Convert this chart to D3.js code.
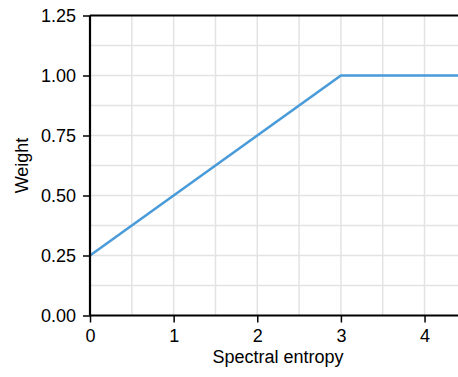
<!DOCTYPE html>
<html>
	<head>
		<style>
			body {
				margin: 0;
				background: #fff;
			}
			svg text {
				font-family: 'Liberation Sans', Arial, sans-serif;
				fill: #000;
			}
		</style>
	</head>
	<body>
		<svg id="chart" width="458" height="377"></svg>
		<script src="https://cdn.jsdelivr.net/npm/d3@7"></script>
		<script>
			// weight ramps linearly with entropy, then saturates at 1
			let entropy = [0, 3, 4.4];
			let weight = [0.25, 1, 1];

			let xTicks = [0, 1, 2, 3, 4];
			let yTicks = [0, 0.25, 0.5, 0.75, 1, 1.25];
			let xGrid = [0.5, 1, 1.5, 2, 2.5, 3, 3.5, 4];
			let yGrid = [0.125, 0.25, 0.375, 0.5, 0.625, 0.75, 0.875, 1, 1.125];

			let margin = { top: 15.5, right: 0, bottom: 61.5, left: 90 };
			let width = 458 - margin.left - margin.right;
			let height = 377 - margin.top - margin.bottom;

			let svg = d3.select('#chart');
			let g = svg
				.append('g')
				.attr('transform', `translate(${margin.left}, ${margin.top})`);

			let x = d3.scaleLinear().domain([0, 4.4]).range([0, width]);
			let y = d3.scaleLinear().domain([0, 1.25]).range([height, 0]);

			// grid
			g.selectAll('.vgrid')
				.data(xGrid)
				.enter()
				.append('line')
				.attr('x1', d => x(d))
				.attr('x2', d => x(d))
				.attr('y1', 0)
				.attr('y2', height)
				.attr('stroke', '#e3e3e3')
				.attr('stroke-width', 1.5);

			g.selectAll('.hgrid')
				.data(yGrid)
				.enter()
				.append('line')
				.attr('x1', 0)
				.attr('x2', width)
				.attr('y1', d => y(d))
				.attr('y2', d => y(d))
				.attr('stroke', '#e3e3e3')
				.attr('stroke-width', 1.5);

			// the curve
			let line = d3
				.line()
				.x((d, i) => x(entropy[i]))
				.y(d => y(d));

			g.append('path')
				.datum(weight)
				.attr('d', line)
				.attr('fill', 'none')
				.attr('stroke', '#4a9bd9')
				.attr('stroke-width', 2.6);

			// axes
			let xAxis = g
				.append('g')
				.attr('transform', `translate(0, ${height})`)
				.call(
					d3
						.axisBottom(x)
						.tickValues(xTicks)
						.tickFormat(d3.format('d'))
						.tickSize(7)
						.tickPadding(7)
				);

			let yAxis = g.append('g').call(
				d3
					.axisLeft(y)
					.tickValues(yTicks)
					.tickFormat(d3.format('.2f'))
					.tickSize(7)
					.tickPadding(7)
			);

			[xAxis, yAxis].forEach(a => {
				a.select('.domain')
					.attr('stroke', '#000')
					.attr('stroke-width', 2.2);
				a.selectAll('.tick line')
					.attr('stroke', '#000')
					.attr('stroke-width', 1.5);
				a.selectAll('.tick text')
					.style('font-size', '18px')
					.style('font-family', "'Liberation Sans', Arial, sans-serif");
			});
			xAxis.select('.domain').attr('d', `M0,0H${width}`);
			yAxis.select('.domain').attr('d', `M0,${height}V0`);

			// top border
			g.append('line')
				.attr('x1', 0)
				.attr('x2', width)
				.attr('y1', 0)
				.attr('y2', 0)
				.attr('stroke', '#000')
				.attr('stroke-width', 2.2);

			// titles
			svg.append('text')
				.attr('x', 278)
				.attr('y', 363)
				.attr('text-anchor', 'middle')
				.style('font-size', '18px')
				.text('Spectral entropy');

			svg.append('text')
				.attr(
					'transform',
					`translate(28, ${margin.top + height / 2}) rotate(-90)`
				)
				.attr('text-anchor', 'middle')
				.style('font-size', '18px')
				.text('Weight');
		</script>
	</body>
</html>
